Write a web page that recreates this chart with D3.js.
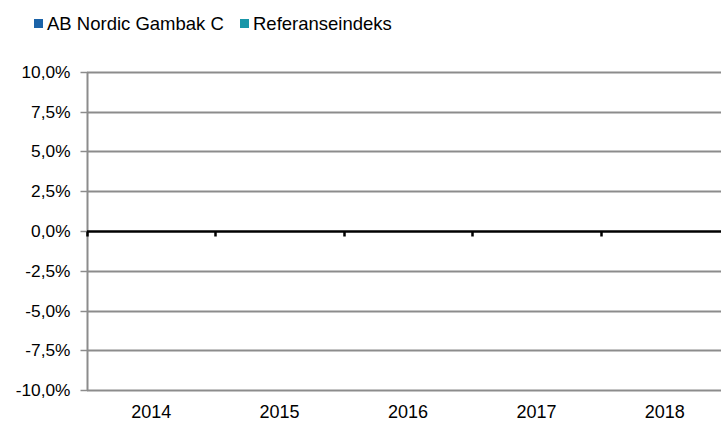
<!DOCTYPE html>
<html><head><meta charset="utf-8">
<script src="https://cdn.jsdelivr.net/npm/d3@7"></script>
<style>body{margin:0;background:#fff}svg{display:block}text{font-family:"Liberation Sans",Arial,sans-serif}</style>
</head><body><svg id="c" width="721" height="421"></svg>
<script>
const categories = ["2014","2015","2016","2017","2018"];
const seriesNames = ["AB Nordic Gambak C","Referanseindeks"];
const fundValues = [0,0,0,0,0];
const indexValues = [0,0,0,0,0];
const yTicks = [-0.10,-0.075,-0.05,-0.025,0,0.025,0.05,0.075,0.10];
const colors = ["#1B63A8","#1996A8"];

(function(){
const svg = d3.select("#c");
const pL = 87, pR = 729, pT = 72, pB = 390;
const x = d3.scaleBand().domain(categories).range([pL,pR]);
const xi = d3.scaleBand().domain(seriesNames).range([0,x.bandwidth()]).paddingInner(0).paddingOuter(0.6);
const y = d3.scaleLinear().domain([-0.10,0.10]).range([pB,pT]);
const fmt = v => d3.format(".1%")(v).replace(".",",").replace("−","-");

// gridlines
svg.append("g").selectAll("line").data(yTicks.filter(t=>t!==0)).join("line")
  .attr("x1",pL).attr("x2",721).attr("y1",d=>Math.round(y(d))+0.5).attr("y2",d=>Math.round(y(d))+0.5)
  .attr("stroke","#8c8c8c").attr("stroke-width",2);

// y axis
const ya = svg.append("g").attr("transform",`translate(${pL+0.5},0)`)
  .call(d3.axisLeft(y).tickValues(yTicks).tickFormat(fmt).tickSize(7).tickPadding(10));
ya.select(".domain").attr("stroke","#8c8c8c").attr("stroke-width",2).attr("d",`M0,${pT}V${pB}`);
ya.selectAll(".tick line").attr("stroke","#8c8c8c").attr("stroke-width",1.5);
ya.selectAll(".tick text").attr("font-size",17.3).attr("fill","#000").attr("font-family","Liberation Sans, Arial, sans-serif");
ya.selectAll(".tick").attr("transform",d=>`translate(0,${Math.round(y(d))+0.5})`);

// bars
const series = [fundValues,indexValues];
series.forEach((vals,si)=>{
  svg.append("g").selectAll("rect").data(vals).join("rect")
    .attr("x",(d,i)=>x(categories[i])+xi(seriesNames[si]))
    .attr("width",xi.bandwidth())
    .attr("y",d=>y(Math.max(0,d)))
    .attr("height",d=>Math.abs(y(d)-y(0)))
    .attr("fill",colors[si]);
});

// zero axis with category boundary ticks
const y0 = Math.round(y(0))+0.5;
svg.append("line").attr("x1",pL).attr("x2",721).attr("y1",y0).attr("y2",y0)
  .attr("stroke","#000").attr("stroke-width",2.5);
const bounds = categories.map(c=>x(c));
svg.append("g").selectAll("line").data(bounds).join("line")
  .attr("x1",d=>Math.round(d)+0.5).attr("x2",d=>Math.round(d)+0.5)
  .attr("y1",y0).attr("y2",y0+5).attr("stroke","#000").attr("stroke-width",2.5);

// x labels
svg.append("g").selectAll("text").data(categories).join("text")
  .attr("x",d=>x(d)+x.bandwidth()/2).attr("y",418)
  .attr("text-anchor","middle").attr("font-size",18).attr("fill","#000").text(d=>d);

// legend
const leg = [{n:seriesNames[0],c:colors[0],x:34},{n:seriesNames[1],c:colors[1],x:240}];
const lg = svg.append("g").selectAll("g").data(leg).join("g");
lg.append("rect").attr("x",d=>d.x).attr("y",19).attr("width",9).attr("height",9).attr("fill",d=>d.c);
lg.append("text").attr("x",d=>d.x+13).attr("y",30).attr("font-size",18.5).attr("fill","#000").text(d=>d.n);
})();
</script></body></html>
